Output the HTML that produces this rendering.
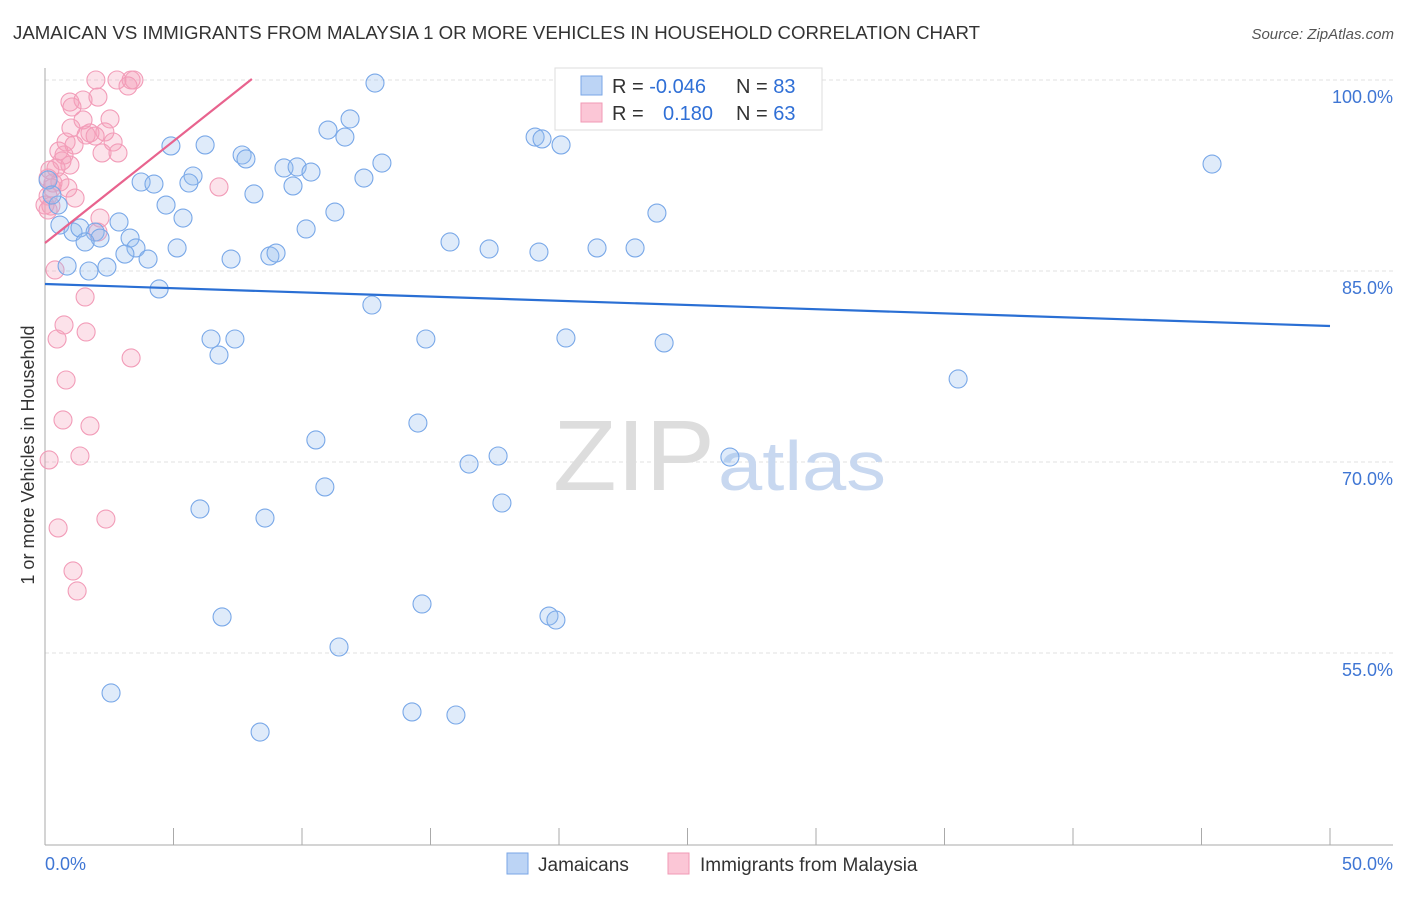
<!DOCTYPE html>
<html><head><meta charset="utf-8"><style>
body{margin:0;background:#fff;font-family:"Liberation Sans",sans-serif}
svg text{font-family:"Liberation Sans",sans-serif}
</style></head><body>
<svg id="c" width="1406" height="892" xmlns="http://www.w3.org/2000/svg">
<text x="13" y="39" font-size="18" fill="#333" textLength="967" lengthAdjust="spacingAndGlyphs">JAMAICAN VS IMMIGRANTS FROM MALAYSIA 1 OR MORE VEHICLES IN HOUSEHOLD CORRELATION CHART</text>
<text x="1394" y="39" font-size="15" fill="#555" text-anchor="end" font-style="italic">Source: ZipAtlas.com</text>
<text transform="translate(34,455) rotate(-90)" font-size="18" fill="#333" text-anchor="middle">1 or more Vehicles in Household</text>
<g id="grid"></g>
<text x="553" y="490" font-size="100" fill="#ddd" font-family="Liberation Serif" textLength="162" lengthAdjust="spacingAndGlyphs">ZIP</text>
<text x="718" y="490" font-size="70" fill="#c8d8f0" textLength="168" lengthAdjust="spacingAndGlyphs">atlas</text>
<g id="pts"></g>
<g id="lines"></g>
<g>
<rect x="555" y="68" width="267" height="62" fill="#fff" stroke="#ddd"/>
<rect x="581" y="76" width="21" height="19" fill="#bcd4f5" stroke="#7aa6e6"/>
<rect x="581" y="103" width="21" height="19" fill="#fbc6d6" stroke="#f09ab5"/>
<text x="612" y="93" font-size="20" fill="#333">R = <tspan fill="#2f6fd6">-0.046</tspan></text>
<text x="736" y="93" font-size="20" fill="#333">N = <tspan fill="#2f6fd6">83</tspan></text>
<text x="612" y="120" font-size="20" fill="#333">R = <tspan fill="#2f6fd6" x="663">0.180</tspan></text>
<text x="736" y="120" font-size="20" fill="#333">N = <tspan fill="#2f6fd6">63</tspan></text>
</g>
<g>
<rect x="507" y="853" width="21" height="21" fill="#bcd4f5" stroke="#7aa6e6"/>
<text x="538" y="871" font-size="19" fill="#333">Jamaicans</text>
<rect x="668" y="853" width="21" height="21" fill="#fbc6d6" stroke="#f09ab5"/>
<text x="700" y="871" font-size="19" fill="#333">Immigrants from Malaysia</text>
</g>
</svg>
<script>
const yTicks=[100,85,70,55];
const yTickLabels=["100.0%","85.0%","70.0%","55.0%"];
const xTickCount=11;
const blueX=[12.84,27.43,28.21,11.87,11.01,11.67,19.07,19.34,20.08,6.23,4.90,7.67,7.82,13.11,9.30,9.81,10.35,45.41,5.76,12.41,3.74,4.24,5.60,9.65,8.13,4.71,11.28,23.81,5.37,2.88,0.51,0.12,0.27,0.58,1.09,1.36,1.95,2.14,1.56,3.31,3.54,3.11,4.01,5.14,10.16,15.76,17.28,19.22,21.48,22.96,7.24,8.75,8.99,0.86,1.71,2.41,4.44,12.72,6.46,7.39,6.77,14.82,20.27,24.09,35.53,14.51,10.54,16.50,17.63,26.65,10.89,17.78,6.03,8.56,6.89,14.67,19.61,19.88,11.44,2.57,14.28,15.99,8.37];
const blueY=[99.76,100,100,96.94,96.07,95.52,95.52,95.37,94.90,94.90,94.82,94.11,93.80,93.48,93.09,93.17,92.77,93.40,92.46,92.30,91.99,91.83,91.91,91.68,91.05,90.18,89.63,89.55,89.16,88.85,90.18,92.15,90.97,88.61,88.06,88.38,88.06,87.59,87.28,87.59,86.81,86.33,85.94,86.81,88.30,87.28,86.73,86.49,86.81,86.81,85.94,86.18,86.41,85.39,85.00,85.31,83.59,82.33,79.66,79.66,78.40,79.66,79.74,79.35,76.52,73.06,71.73,69.84,70.47,70.39,68.04,66.78,66.31,65.60,57.83,58.85,57.90,57.59,55.47,51.86,50.37,50.13,48.79];
const pinkX=[1.98,2.80,3.35,3.46,3.23,0.97,1.48,2.06,1.05,2.53,1.48,1.01,1.75,2.33,1.60,2.65,0.82,1.13,1.95,0.54,0.74,2.22,2.84,0.66,0.97,0.43,0.12,0.58,0.27,6.77,0.89,0.12,1.17,0.23,2.14,2.06,0.39,1.56,0.74,1.60,0.47,3.35,0.82,0.70,1.75,0.16,1.36,2.37,0.51,1.09,1.25,0.19,0.31,0,0.12];
const pinkY=[100,100,100,100,99.53,98.27,98.43,98.66,97.88,96.94,96.86,96.23,95.84,95.92,95.68,95.13,95.13,94.90,95.60,94.42,94.11,94.27,94.27,93.64,93.32,93.09,92.30,91.99,91.52,91.60,91.52,90.89,90.73,90.10,89.16,88.06,85.08,82.96,80.76,80.21,79.66,78.17,76.44,73.30,72.83,70.16,70.47,65.52,64.82,61.44,59.87,92.93,91.91,90.18,89.79];
const blueTrend=[[0,83.98],[50,80.68]];
const pinkTrend=[[0,87.2],[8.05,100.08]];
const NS="http://www.w3.org/2000/svg";
const X=v=>45+v*25.7, Y=v=>80+(100-v)*12.733;
function mk(t,a,p){const e=document.createElementNS(NS,t);for(const k in a)e.setAttribute(k,a[k]);p.appendChild(e);return e;}
const g=document.getElementById('grid');
yTicks.forEach((t,i)=>{
 const l=mk('line',{x1:45,x2:1393,y1:Y(t),y2:Y(t),stroke:'#e0e0e0','stroke-dasharray':'4,3'},g);
 
 
 const tx=mk('text',{x:1393,y:Y(t)+23,'font-size':18,fill:'#3f76d4','text-anchor':'end'},g);
 tx.textContent=yTickLabels[i];
 
 
});
const ax=mk('line',{x1:45,x2:45,y1:68,y2:845,stroke:'#aaa'},g);


const bx=mk('line',{x1:45,x2:1393,y1:845,y2:845,stroke:'#aaa'},g);


for(let i=0;i<xTickCount;i++){const xv=i*5;
 const t=mk('line',{x1:X(xv),x2:X(xv),y1:828,y2:845,stroke:'#aaa'},g);
 
 }
const xl0=mk('text',{x:45,y:870,'font-size':18,fill:'#3f76d4'},g);xl0.textContent='0.0%';


const xl1=mk('text',{x:1393,y:870,'font-size':18,fill:'#3f76d4','text-anchor':'end'},g);xl1.textContent='50.0%';


const p=document.getElementById('pts');
pinkX.forEach((x,i)=>{const c=mk('circle',{cx:X(x),cy:Y(pinkY[i]),r:9,fill:'rgba(246,160,186,0.3)',stroke:'#f29cb8','stroke-width':1.1},p);
 
 });
blueX.forEach((x,i)=>{const c=mk('circle',{cx:X(x),cy:Y(blueY[i]),r:9,fill:'rgba(150,188,240,0.3)',stroke:'#79a8e8','stroke-width':1.1},p);
 
 });
const L=document.getElementById('lines');
const b=mk('line',{x1:X(blueTrend[0][0]),y1:Y(blueTrend[0][1]),x2:X(blueTrend[1][0]),y2:Y(blueTrend[1][1]),stroke:'#2a6fd4','stroke-width':2.2},L);


const q=mk('line',{x1:X(pinkTrend[0][0]),y1:Y(pinkTrend[0][1]),x2:X(pinkTrend[1][0]),y2:Y(pinkTrend[1][1]),stroke:'#e8638e','stroke-width':2.2},L);


</script>
</body></html>
